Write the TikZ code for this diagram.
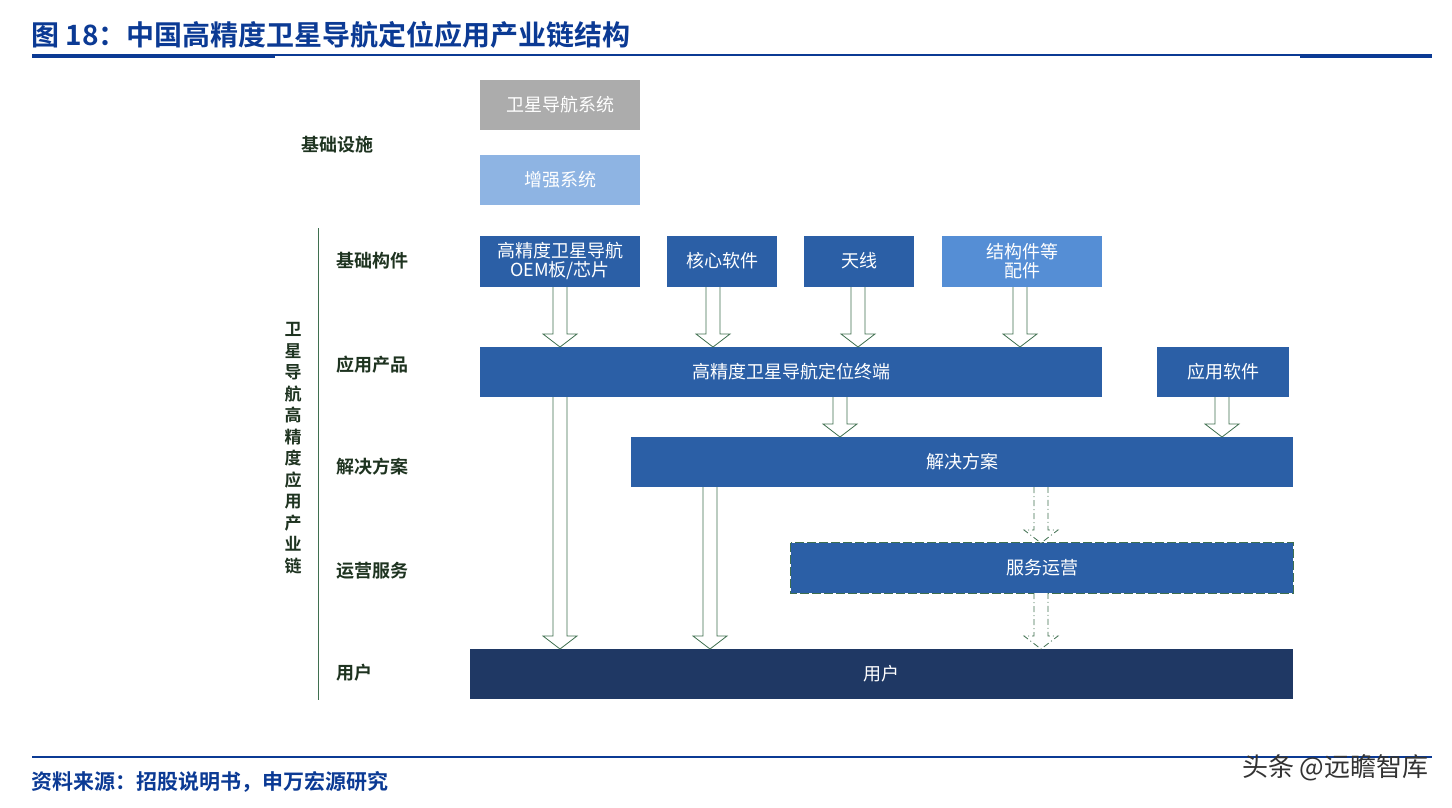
\documentclass[tikz,border=0pt]{standalone}
\usepackage{fontspec}
\setmainfont{Noto Sans CJK SC}
\newfontfamily\cjkbold{Noto Sans CJK SC Bold}
\definecolor{titleblue}{HTML}{0B3A94}
\definecolor{boxblue}{HTML}{2B5FA6}
\definecolor{lightblue}{HTML}{558ED5}
\definecolor{paleblue}{HTML}{8EB4E3}
\definecolor{navy}{HTML}{1F3864}
\definecolor{arrowgreen}{HTML}{3F6F4F}
\definecolor{labelgreen}{HTML}{1E3320}
\tikzset{
  box/.style={draw=none, fill=boxblue, text=white, font=\fontsize{18}{19}\selectfont, align=center, inner sep=0pt},
  rowlabel/.style={anchor=west, text=labelgreen, font=\cjkbold\fontsize{18}{19}\selectfont},
  hollow/.style={draw=arrowgreen, fill=white, line width=0.8pt},
  hollowdash/.style={hollow, dash pattern=on 6pt off 3pt on 1pt off 3pt}
}
% hollow block arrow: x, top y, bottom y
\newcommand\hollowarrow[4][hollow]{
  \draw[#1] (#2-7,#3) -- (#2-7,#4-13) -- (#2-17,#4-13) -- (#2,#4) -- (#2+17,#4-13) -- (#2+7,#4-13) -- (#2+7,#3);
}
\begin{document}
\begin{tikzpicture}[x=1pt,y=-1pt]
	\useasboundingbox (0,0) rectangle (1452,807);
	% title
	\node[anchor=west, text=titleblue, font=\cjkbold\fontsize{28}{30}\selectfont] (title) at (28,35) {图 18：中国高精度卫星导航定位应用产业链结构};
	\draw[titleblue, line width=1.2pt] (32,55) -- (1432,55);
	\fill[titleblue] (32,54) rectangle (275,58);
	\fill[titleblue] (1300,54) rectangle (1432,58);
	% infrastructure
	\node[box, fill=gray!65, minimum width=160pt, minimum height=50pt] (gnss) at (560,105) {卫星导航系统};
	\node[box, fill=paleblue, minimum width=160pt, minimum height=50pt] (aug) at (560,180) {增强系统};
	\node[rowlabel] (infra) at (298,145) {基础设施};
	% chain
	\draw[arrowgreen, line width=1pt] (318,228) -- (318,700);
	\node[text=labelgreen, font=\cjkbold\fontsize{17}{21.5}\selectfont, align=center, text width=18pt] (chain) at (293,448)
	  {卫\\星\\导\\航\\高\\精\\度\\应\\用\\产\\业\\链};
	\node[rowlabel] (r1) at (333,261) {基础构件};
	\node[rowlabel] (r2) at (333,365) {应用产品};
	\node[rowlabel] (r3) at (333,467) {解决方案};
	\node[rowlabel] (r4) at (333,571) {运营服务};
	\node[rowlabel] (r5) at (333,673) {用户};
	% components
	\node[box, minimum width=160pt, minimum height=51pt] (oem) at (560,261) {高精度卫星导航\\OEM板/芯片};
	\node[box, minimum width=110pt, minimum height=51pt] (core) at (722,261) {核心软件};
	\node[box, minimum width=110pt, minimum height=51pt] (ant) at (859,261) {天线};
	\node[box, fill=lightblue, minimum width=160pt, minimum height=51pt] (parts) at (1022,261) {结构件等\\配件};
	% products
	\node[box, minimum width=622pt, minimum height=50pt] (term) at (791,372) {高精度卫星导航定位终端};
	\node[box, minimum width=132pt, minimum height=50pt] (soft) at (1223,372) {应用软件};
	% solutions
	\node[box, minimum width=662pt, minimum height=50pt] (sol) at (962,462) {解决方案};
	% services
	\node[box, minimum width=502pt, minimum height=50pt] (serv) at (1042,568) {服务运营};
	\draw[arrowgreen, line width=1.2pt, dash pattern=on 9pt off 3pt] (serv.north west) rectangle (serv.south east);
	% users
	\node[box, fill=navy, minimum width=823pt, minimum height=50pt] (user) at (881.5,674) {用户};
	% arrows
	\hollowarrow{560}{287}{347}
	\hollowarrow{713}{287}{347}
	\hollowarrow{858}{287}{347}
	\hollowarrow{1020}{287}{347}
	\hollowarrow{560}{397}{649}
	\hollowarrow{840}{397}{437}
	\hollowarrow{1222}{397}{437}
	\hollowarrow{710}{487}{649}
	\hollowarrow[hollowdash]{1041}{487}{543}
	\hollowarrow[hollowdash]{1041}{593}{649}
	% footer
	\draw[titleblue, line width=1.5pt] (32,757) -- (1432,757);
	\node[anchor=west, text=titleblue, font=\cjkbold\fontsize{21}{23}\selectfont] (src) at (28,782) {资料来源：招股说明书，申万宏源研究};
	\node[anchor=east, text=black!80, font=\fontsize{26}{28}\selectfont] (mark) at (1432,768) {头条 @远瞻智库};
\end{tikzpicture}
\end{document}
